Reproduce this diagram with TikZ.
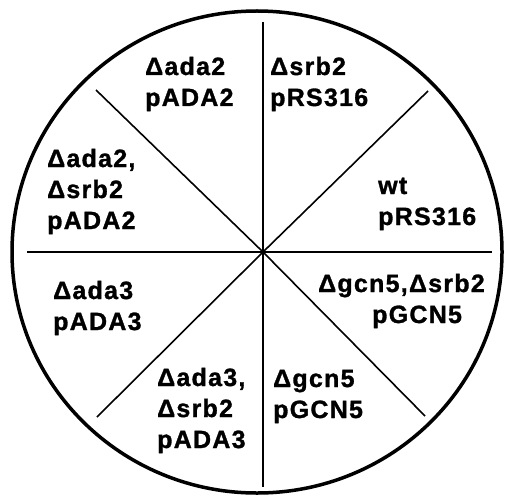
\documentclass[tikz,border=0pt]{standalone}
\usepackage{fontspec}
\setmainfont[LetterSpace=5, BoldFont={Liberation Sans Bold}, BoldFeatures={FakeBold=1.2}]{Liberation Sans}
\begin{document}
\begin{tikzpicture}[
    x=1pt, y=-1pt,
    rim/.style={draw=black, line width=3.5pt},
    spoke/.style={draw=black, line width=1.6pt},
    strain/.style={anchor=base west, align=left, inner sep=0pt, font=\bfseries\fontsize{25}{31}\selectfont}
]
\useasboundingbox (0,0) rectangle (505,500);
\draw [rim] (257,252) ellipse [x radius=245pt, y radius=241pt];

% Spokes
\coordinate (hub) at (263,252);
\coordinate (n) at (263,22);
\coordinate (s) at (263,487);
\coordinate (w) at (27,252);
\coordinate (e) at (492,252);
\coordinate (nw) at (96,90);
\coordinate (ne) at (428,91);
\coordinate (sw) at (97,417);
\coordinate (se) at (425,416);
\foreach \tip in {n,s,w,e,nw,ne,sw,se}
    \draw [spoke] (hub) -- (\tip);

% Strains (anchored at the baseline of the last line)
\node (ada2) [strain] at (145,106) {Δada2\\pADA2};
\node (srb2) [strain] at (270,106) {Δsrb2\\pRS316};
\node (ada2srb2) [strain] at (47,229) {Δada2,\\Δsrb2\\pADA2};
\node (wt) [strain] at (378,225) {wt\\pRS316};
\node (ada3) [strain] at (53,330) {Δada3\\pADA3};
\node (ada3srb2) [strain] at (157,448) {Δada3,\\Δsrb2\\pADA3};
\node (gcn5) [strain] at (273,418) {Δgcn5\\pGCN5};
\node (gcn5srb2) [strain] at (318,323) {Δgcn5,Δsrb2\\\hspace*{54pt}pGCN5};

\end{tikzpicture}
\end{document}
